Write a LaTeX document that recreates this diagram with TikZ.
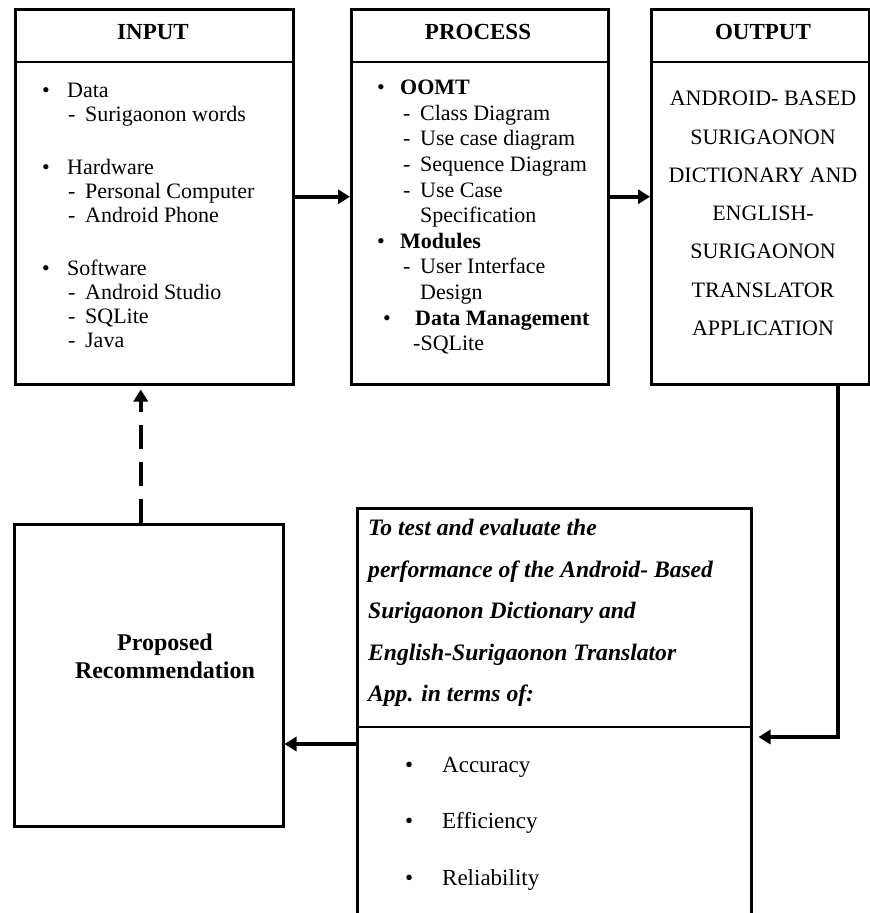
\documentclass[tikz,border=0pt]{standalone}
\usepackage{fontspec}
\setmainfont{Liberation Serif}
\usetikzlibrary{arrows.meta}

\newcommand{\dotitem}[1]{\makebox[#1][l]{\textbullet}}
\newcommand{\subdash}[2]{\hspace*{#1}\makebox[#2][l]{-}}

\begin{document}
\begin{tikzpicture}[x=1pt,y=-1pt,
  box/.style={draw,line width=2.5pt,anchor=north west,inner sep=0pt},
  rule/.style={line width=1.5pt},
  head/.style={font=\fontsize{23}{26}\selectfont\bfseries},
  list/.style={anchor=north west,align=left,inner sep=0pt},
  flow/.style={line width=4pt,-{Triangle[length=12pt,width=14pt]}}]
\clip (0,0) rectangle (870,913);

% top row
\node [box,minimum width=278pt,minimum height=375pt] (input) at (14,8) {};
\node [box,minimum width=257pt,minimum height=375pt] (process) at (350,8) {};
\node [box,minimum width=218pt,minimum height=375pt] (output) at (650,8) {};
\draw [rule] (input.west |- 0,62) -- (input.east |- 0,62);
\draw [rule] (process.west |- 0,62) -- (process.east |- 0,62);
\draw [rule] (output.west |- 0,62) -- (output.east |- 0,62);
\node [head] (inputhead) at (153,32) {INPUT};
\node [head] (processhead) at (478,32) {PROCESS};
\node [head] (outputhead) at (763,32) {OUTPUT};

\node [list,font={\fontsize{22}{24}\selectfont}] (inputlist) at (42,83) {%
\dotitem{25pt}Data\\
\subdash{26pt}{17pt}Surigaonon words\\[29pt]
\dotitem{25pt}Hardware\\
\subdash{26pt}{17pt}Personal Computer\\
\subdash{26pt}{17pt}Android Phone\\[29pt]
\dotitem{25pt}Software\\
\subdash{26pt}{17pt}Android Studio\\
\subdash{26pt}{17pt}SQLite\\
\subdash{26pt}{17pt}Java};

\node [list,font={\fontsize{22}{25.6}\selectfont}] (processlist) at (377,80) {%
\dotitem{23pt}\textbf{OOMT}\\
\subdash{26pt}{17pt}Class Diagram\\
\subdash{26pt}{17pt}Use case diagram\\
\subdash{26pt}{17pt}Sequence Diagram\\
\subdash{26pt}{17pt}Use Case\\
\hspace*{43pt}Specification\\
\dotitem{23pt}\textbf{Modules}\\
\subdash{26pt}{17pt}User Interface\\
\hspace*{43pt}Design\\
\hspace*{6pt}\dotitem{32pt}\textbf{Data Management}\\
\hspace*{36pt}-SQLite};

\node [anchor=north,align=center,inner sep=0pt,font={\fontsize{22}{38.3}\selectfont}] (outputtext) at (763,91) {%
ANDROID- BASED\\ SURIGAONON\\ DICTIONARY AND\\ ENGLISH-\\ SURIGAONON\\ TRANSLATOR\\ APPLICATION};

% bottom row
\node [box,minimum width=394pt,minimum height=433pt] (test) at (356,507) {};
\draw [rule] (test.west |- 0,727) -- (test.east |- 0,727);
\node [list,font={\fontsize{23.6}{41.5}\selectfont\bfseries\itshape}] (testtext) at (368,519) {%
To test and evaluate the\\
performance of the Android- Based\\
Surigaonon Dictionary and\\
English-Surigaonon Translator\\
App. in terms of:};
\node [list,font={\fontsize{23}{56.5}\selectfont}] (testlist) at (405,757) {%
\dotitem{37pt}Accuracy\\
\dotitem{37pt}Efficiency\\
\dotitem{37pt}Reliability};

\node [box,minimum width=269pt,minimum height=302pt] (rec) at (13,523) {};
\node [align=center,font={\fontsize{24}{28}\selectfont\bfseries}] (rectext) at (165,656) {Proposed\\ Recommendation};

% connectors
\coordinate (turn) at (838,737);
\draw [flow] (input.east) -- (process.west);
\draw [flow] (process.east) -- (output.west);
\draw [flow] (output.south -| turn) -- (turn) -- ([xshift=6pt]test.east |- turn);
\draw [flow] (test.west |- 0,744) -- (rec.east |- 0,744);
\draw [flow,dash pattern=on 24pt off 13pt] ([xshift=-8pt]rec.north) -- ([xshift=-8pt,yshift=-4pt]rec.north |- input.south);
\end{tikzpicture}
\end{document}
